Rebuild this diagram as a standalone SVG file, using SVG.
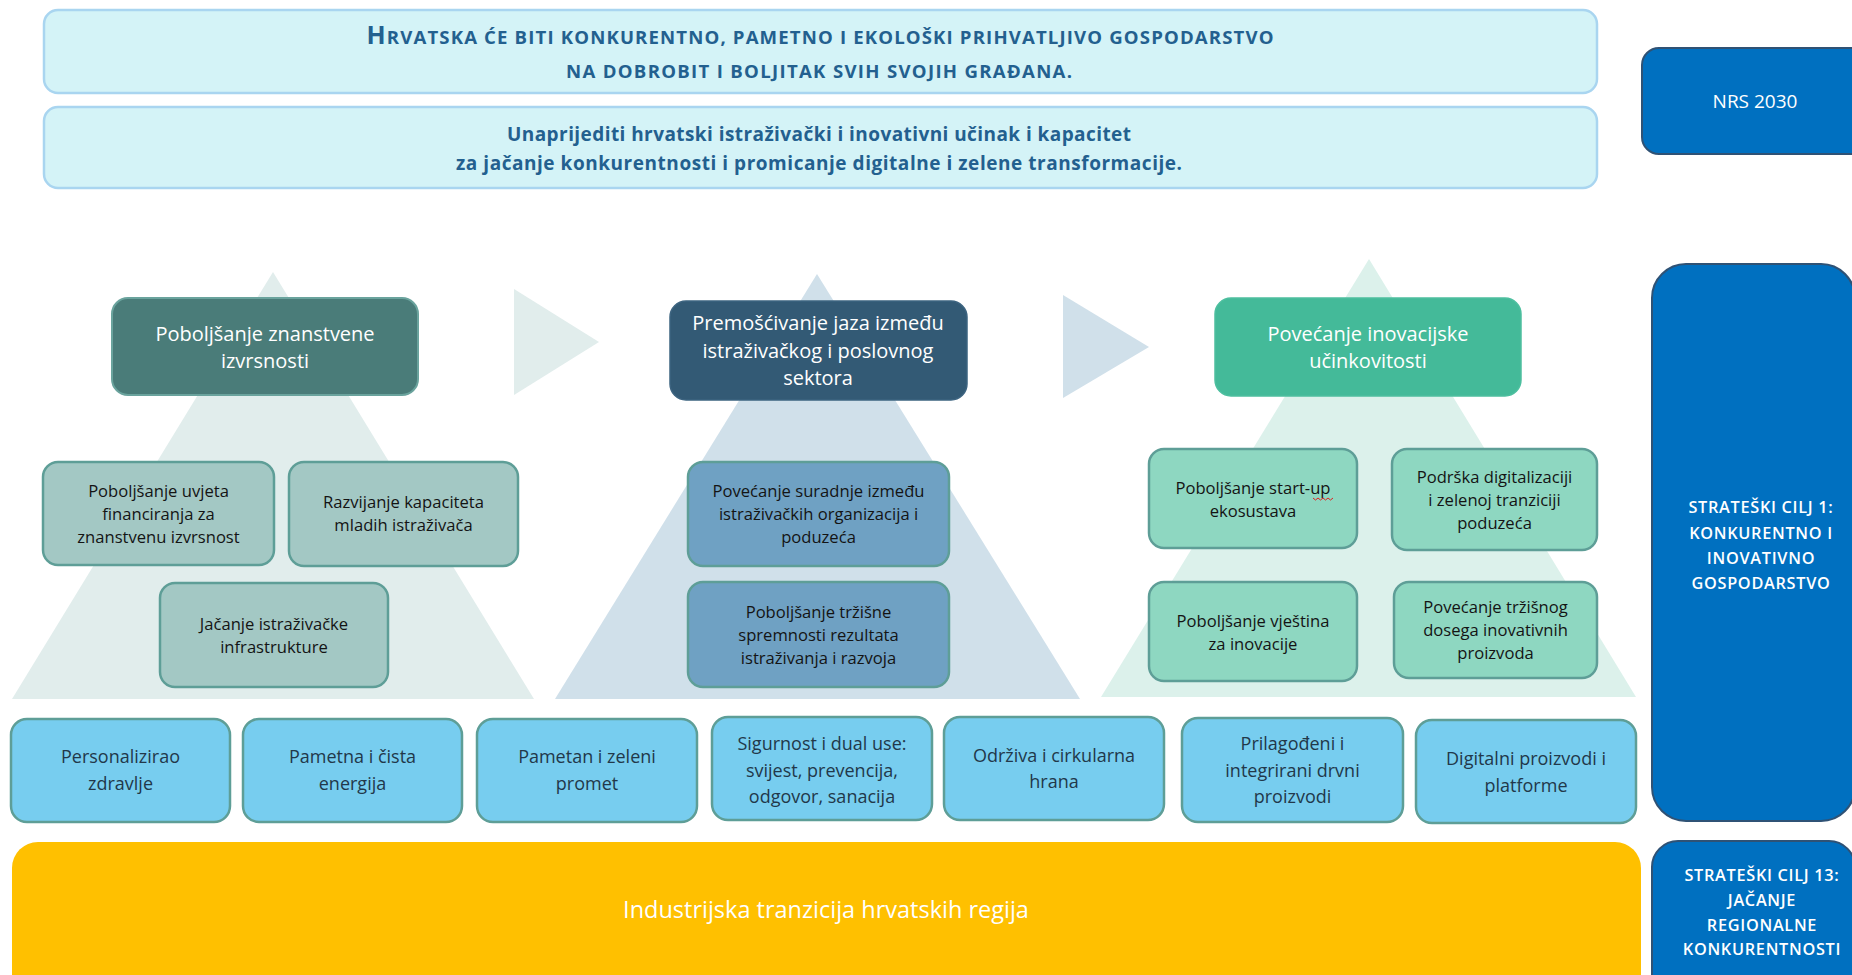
<svg xmlns="http://www.w3.org/2000/svg" width="1852" height="975" viewBox="0 0 1852 975">
<style>
text{font-family:"Open Sans","Noto Sans","Liberation Sans",sans-serif;text-anchor:middle}
.ban{fill:#D4F3F7;stroke:#A9D5F0;stroke-width:2.5}
.bt{fill:#23608F;font-weight:700}
.blue{fill:#0070C0;stroke:#2F5275;stroke-width:2}
.wt{fill:#FFFFFF}
.st{font-size:16.3px;font-weight:600;letter-spacing:0.7px}
.hd{font-size:20px}
.sub{stroke:#5E9E97;stroke-width:2.5}
.sl{fill:#A3C8C4}
.sm{fill:#6FA1C3}
.sr{fill:#8ED7C1}
.st17{font-size:16.6px;fill:#141414}
.row{fill:#77CDEF;stroke:#5E9E97;stroke-width:2.5}
.rt{font-size:18px;fill:#22384A}
</style>

<g id="backdrop">
<polygon points="273,272 534,699 12,699" fill="#E1EDEC"/>
<polygon points="817,274 1080,699 555,699" fill="#D0E0EA"/>
<polygon points="1369,259 1636,697 1101,697" fill="#DCF1EB"/>
<polygon points="514,289 599,342 514,395" fill="#E1EDEC"/>
<polygon points="1063,295 1149,347 1063,398" fill="#D0E0EA"/>
</g>

<g id="vision">
<rect class="ban" x="44" y="10" width="1553" height="83" rx="14"/>
<text class="bt" x="820" y="43.5" textLength="907"><tspan font-size="25">H</tspan><tspan font-size="18.6">RVATSKA ĆE BITI KONKURENTNO, PAMETNO I EKOLOŠKI PRIHVATLJIVO GOSPODARSTVO</tspan></text>
<text class="bt" x="819" y="78" font-size="18.6" textLength="506">NA DOBROBIT I BOLJITAK SVIH SVOJIH GRAĐANA.</text>
</g>

<g id="goal">
<rect class="ban" x="44" y="107" width="1553" height="81" rx="14"/>
<text class="bt" x="819" y="141" font-size="19" textLength="624">Unaprijediti hrvatski istraživački i inovativni učinak i kapacitet</text>
<text class="bt" x="819" y="170" font-size="19" textLength="726">za jačanje konkurentnosti i promicanje digitalne i zelene transformacije.</text>
</g>

<g id="nrs2030">
<rect class="blue" x="1642" y="48" width="225" height="106" rx="17"/>
<text class="wt" x="1755" y="108" font-size="19">NRS 2030</text>
</g>

<g id="cilj1">
<rect class="blue" x="1652" y="264" width="203" height="557" rx="34"/>
<text class="wt st"><tspan x="1761" y="513">STRATEŠKI CILJ 1:</tspan><tspan x="1761" y="539">KONKURENTNO I</tspan><tspan x="1761" y="564">INOVATIVNO</tspan><tspan x="1761" y="589">GOSPODARSTVO</tspan></text>
</g>

<g id="cilj13">
<rect class="blue" x="1652" y="841" width="203" height="160" rx="26"/>
<text class="wt st"><tspan x="1762" y="881">STRATEŠKI CILJ 13:</tspan><tspan x="1762" y="906">JAČANJE</tspan><tspan x="1762" y="931">REGIONALNE</tspan><tspan x="1762" y="955">KONKURENTNOSTI</tspan></text>
</g>

<g id="h-izvrsnost">
<rect x="112" y="298" width="306" height="97" rx="16" fill="#4A7C79" stroke="#6AA39D" stroke-width="2"/>
<text class="wt hd"><tspan x="265" y="341">Poboljšanje znanstvene</tspan><tspan x="265" y="368">izvrsnosti</tspan></text>
</g>

<g id="h-jaz">
<rect x="670" y="301" width="297" height="99" rx="16" fill="#335A75" stroke="#3D6480" stroke-width="1.5"/>
<text class="wt hd"><tspan x="818" y="330">Premošćivanje jaza između</tspan><tspan x="818" y="358">istraživačkog i poslovnog</tspan><tspan x="818" y="385">sektora</tspan></text>
</g>

<g id="h-inovacije">
<rect x="1215" y="298" width="306" height="98" rx="16" fill="#44BA99" stroke="#4DBF9F" stroke-width="1.5"/>
<text class="wt hd"><tspan x="1368" y="341">Povećanje inovacijske</tspan><tspan x="1368" y="368">učinkovitosti</tspan></text>
</g>

<g id="s-financiranje">
<rect class="sub sl" x="43" y="462" width="231" height="103" rx="15"/>
<text class="st17"><tspan x="158.5" y="497">Poboljšanje uvjeta</tspan><tspan x="158.5" y="520">financiranja za</tspan><tspan x="158.5" y="543">znanstvenu izvrsnost</tspan></text>
</g>

<g id="s-mladi">
<rect class="sub sl" x="289" y="462" width="229" height="104" rx="15"/>
<text class="st17"><tspan x="403.5" y="508">Razvijanje kapaciteta</tspan><tspan x="403.5" y="531">mladih istraživača</tspan></text>
</g>

<g id="s-infrastruktura">
<rect class="sub sl" x="160" y="583" width="228" height="104" rx="15"/>
<text class="st17"><tspan x="274" y="630">Jačanje istraživačke</tspan><tspan x="274" y="653">infrastrukture</tspan></text>
</g>

<g id="s-suradnja">
<rect class="sub sm" x="688" y="462" width="261" height="104" rx="15"/>
<text class="st17"><tspan x="818.5" y="497">Povećanje suradnje između</tspan><tspan x="818.5" y="520">istraživačkih organizacija i</tspan><tspan x="818.5" y="543">poduzeća</tspan></text>
</g>

<g id="s-trzisna">
<rect class="sub sm" x="688" y="582" width="261" height="105" rx="15"/>
<text class="st17"><tspan x="818.5" y="618">Poboljšanje tržišne</tspan><tspan x="818.5" y="641">spremnosti rezultata</tspan><tspan x="818.5" y="664">istraživanja i razvoja</tspan></text>
</g>

<g id="s-startup">
<rect class="sub sr" x="1149" y="449" width="208" height="99" rx="15"/>
<text class="st17"><tspan x="1253" y="494">Poboljšanje start-up</tspan><tspan x="1253" y="517">ekosustava</tspan></text>
<path d="M1313,498 l2.5,2 l2.5,-2 l2.5,2 l2.5,-2 l2.5,2 l2.5,-2 l2.5,2 l2.5,-2" fill="none" stroke="#E02020" stroke-width="1"/>
</g>

<g id="s-digitalizacija">
<rect class="sub sr" x="1392" y="449" width="205" height="101" rx="15"/>
<text class="st17"><tspan x="1494.5" y="483">Podrška digitalizaciji</tspan><tspan x="1494.5" y="506">i zelenoj tranziciji</tspan><tspan x="1494.5" y="529">poduzeća</tspan></text>
</g>

<g id="s-vjestine">
<rect class="sub sr" x="1149" y="582" width="208" height="99" rx="15"/>
<text class="st17"><tspan x="1253" y="627">Poboljšanje vještina</tspan><tspan x="1253" y="650">za inovacije</tspan></text>
</g>

<g id="s-doseg">
<rect class="sub sr" x="1394" y="582" width="203" height="96" rx="15"/>
<text class="st17"><tspan x="1495.5" y="613">Povećanje tržišnog</tspan><tspan x="1495.5" y="636">dosega inovativnih</tspan><tspan x="1495.5" y="659">proizvoda</tspan></text>
</g>

<g id="r-zdravlje">
<rect class="row" x="11" y="719" width="219" height="103" rx="16"/>
<text class="rt"><tspan x="120.5" y="763">Personalizirao</tspan><tspan x="120.5" y="790">zdravlje</tspan></text>
</g>

<g id="r-energija">
<rect class="row" x="243" y="719" width="219" height="103" rx="16"/>
<text class="rt"><tspan x="352.5" y="763">Pametna i čista</tspan><tspan x="352.5" y="790">energija</tspan></text>
</g>

<g id="r-promet">
<rect class="row" x="477" y="719" width="220" height="103" rx="16"/>
<text class="rt"><tspan x="587" y="763">Pametan i zeleni</tspan><tspan x="587" y="790">promet</tspan></text>
</g>

<g id="r-sigurnost">
<rect class="row" x="712" y="717" width="220" height="103" rx="16"/>
<text class="rt"><tspan x="822" y="750">Sigurnost i dual use:</tspan><tspan x="822" y="777">svijest, prevencija,</tspan><tspan x="822" y="803">odgovor, sanacija</tspan></text>
</g>

<g id="r-hrana">
<rect class="row" x="944" y="717" width="220" height="103" rx="16"/>
<text class="rt"><tspan x="1054" y="762">Održiva i cirkularna</tspan><tspan x="1054" y="788">hrana</tspan></text>
</g>

<g id="r-drvo">
<rect class="row" x="1182" y="718" width="221" height="104" rx="16"/>
<text class="rt"><tspan x="1292.5" y="750">Prilagođeni i</tspan><tspan x="1292.5" y="777">integrirani drvni</tspan><tspan x="1292.5" y="803">proizvodi</tspan></text>
</g>

<g id="r-digitalni">
<rect class="row" x="1416" y="720" width="220" height="103" rx="16"/>
<text class="rt"><tspan x="1526" y="765">Digitalni proizvodi i</tspan><tspan x="1526" y="792">platforme</tspan></text>
</g>

<g id="industrija">
<rect x="12" y="842" width="1629" height="160" rx="26" fill="#FFC000"/>
<text class="wt" x="826" y="918" font-size="23.5">Industrijska tranzicija hrvatskih regija</text>
</g>

<g id="connectors"></g>
</svg>
